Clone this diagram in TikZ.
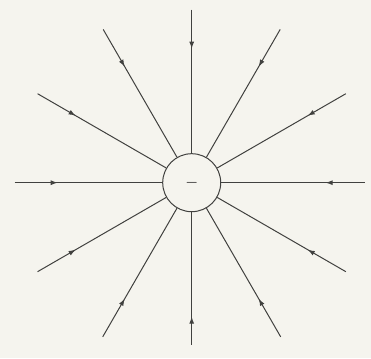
\documentclass[tikz,border=0pt]{standalone}
\usepackage{tikz}
\usetikzlibrary{arrows.meta,decorations.markings}
\definecolor{paper}{RGB}{245,244,238}
\definecolor{ink}{RGB}{65,65,63}

\tikzset{
  fieldline/.style={draw=ink,line width=1pt,
    postaction={decorate},
    decoration={markings,
      mark=at position #1 with {\arrow{Latex[length=7pt,width=5pt]}}}},
  charge/.style={circle,draw=ink,line width=1pt,minimum size=58pt,inner sep=0pt}
}

\begin{document}
\begin{tikzpicture}[x=1pt,y=1pt]
  \fill[paper] (-191.7,-175.3) rectangle (179.3,182.7);
  \useasboundingbox (-191.7,-175.3) rectangle (179.3,182.7);
  \node[charge,font=\Large\boldmath,text=ink] (q) at (0,0) {$-$};
  \foreach \a/\r in {0/173,30/178,60/177,90/173,120/177,150/178,
                     180/177,210/178,240/178,270/162,300/178,330/178}
  {
    \coordinate (e\a) at (\a:\r);
    \draw[fieldline={\r pt-134pt}] (e\a) -- (q);
  }
\end{tikzpicture}
\end{document}
